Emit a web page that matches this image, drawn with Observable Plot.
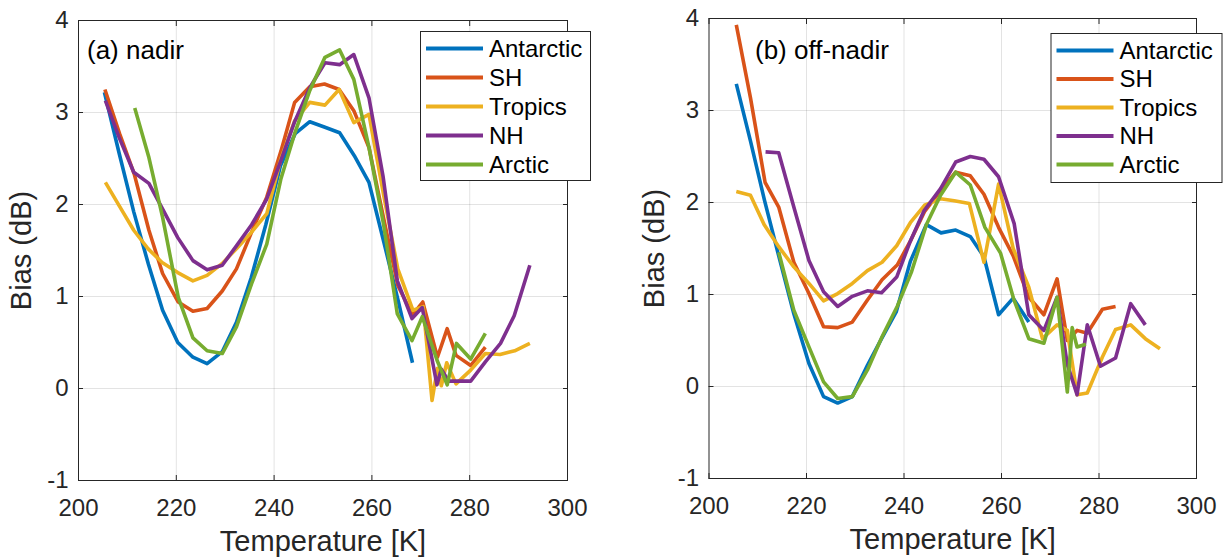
<!DOCTYPE html>
<html>
<head>
<meta charset="utf-8">
<script src="https://cdn.jsdelivr.net/npm/d3@7"></script>
<script src="https://cdn.jsdelivr.net/npm/@observablehq/plot@0.6"></script>
<style>
  html, body { margin: 0; padding: 0; background: #fff; }
  #wrap { position: relative; width: 1229px; height: 560px; display: flex; font-family: "Liberation Sans", Arial, Helvetica, sans-serif; }
  #overlay { position: absolute; left: 0; top: 0; pointer-events: none; }
</style>
</head>
<body>
<div id="wrap"></div>
<script>
// ---------- data ----------
const regions = ["Antarctic", "SH", "Tropics", "NH", "Arctic"];
const xTicks = [200, 220, 240, 260, 280, 300];
const yTicks = [-1, 0, 1, 2, 3, 4];
const xLabel = "Temperature [K]";
const yLabel = "Bias (dB)";
const panelTitles = ["(a) nadir", "(b) off-nadir"];

// (a) nadir
const nadirAntarcticT = [205.3, 208.3, 211.3, 214.3, 217.2, 220.3, 223.4, 226.3, 229.4, 232.3, 235.3, 238.3, 241.3, 244.3, 247.3, 250.4, 253.4, 256.4, 259.4, 262.4, 265.4, 268.3];
const nadirAntarcticBias = [3.22, 2.56, 1.92, 1.35, 0.85, 0.50, 0.34, 0.27, 0.40, 0.72, 1.20, 1.78, 2.42, 2.77, 2.90, 2.84, 2.78, 2.53, 2.24, 1.60, 0.95, 0.28];
const nadirSHT = [205.4, 208.4, 211.4, 214.4, 217.2, 220.4, 223.4, 226.3, 229.4, 232.3, 235.4, 238.5, 241.4, 244.2, 247.3, 250.3, 253.3, 256.3, 259.4, 262.4, 265.3, 268.3, 270.4, 273.4, 275.4, 277.2, 280.2, 283.2];
const nadirSHBias = [3.25, 2.77, 2.33, 1.72, 1.25, 0.94, 0.84, 0.87, 1.06, 1.30, 1.70, 2.08, 2.58, 3.11, 3.28, 3.31, 3.25, 3.02, 2.62, 1.85, 1.12, 0.80, 0.94, 0.34, 0.65, 0.36, 0.25, 0.45];
const nadirTropicsT = [205.5, 208.4, 211.3, 214.2, 217.1, 220.3, 223.4, 226.3, 229.4, 232.3, 235.4, 238.5, 241.4, 244.2, 247.3, 250.4, 253.3, 256.3, 259.4, 262.4, 265.3, 268.4, 270.5, 272.3, 273.4, 274.2, 275.3, 277.2, 280.2, 283.2, 286.2, 289.2, 292.3];
const nadirTropicsBias = [2.24, 1.98, 1.72, 1.52, 1.37, 1.26, 1.17, 1.23, 1.36, 1.52, 1.70, 1.90, 2.50, 2.91, 3.11, 3.08, 3.25, 2.89, 2.98, 2.10, 1.30, 0.85, 0.89, -0.13, 0.22, 0.03, 0.28, 0.05, 0.20, 0.38, 0.37, 0.41, 0.49];
const nadirNHT = [205.5, 208.3, 211.3, 214.4, 217.4, 220.3, 223.4, 226.3, 229.4, 232.3, 235.4, 238.5, 241.4, 244.2, 247.3, 250.4, 253.4, 256.3, 259.4, 262.3, 265.2, 268.2, 270.3, 273.3, 274.2, 275.7, 277.4, 280.2, 283.2, 286.3, 289.1, 292.3];
const nadirNHBias = [3.13, 2.73, 2.35, 2.23, 1.93, 1.64, 1.39, 1.29, 1.34, 1.55, 1.78, 2.06, 2.48, 2.90, 3.27, 3.54, 3.52, 3.63, 3.16, 2.30, 1.17, 0.76, 0.88, 0.04, 0.21, 0.08, 0.08, 0.08, 0.29, 0.49, 0.79, 1.34];
const nadirArcticT = [211.5, 214.4, 217.2, 220.4, 223.4, 226.3, 229.4, 232.3, 235.4, 238.5, 241.4, 244.2, 247.3, 250.4, 253.4, 256.3, 259.4, 262.4, 265.2, 268.2, 270.3, 273.3, 275.4, 277.3, 280.2, 283.2];
const nadirArcticBias = [3.05, 2.51, 1.86, 0.99, 0.55, 0.41, 0.38, 0.67, 1.14, 1.57, 2.28, 2.77, 3.24, 3.60, 3.68, 3.36, 2.62, 1.78, 0.81, 0.52, 0.78, 0.31, 0.04, 0.49, 0.32, 0.60];

// (b) off-nadir
const offAntarcticT = [205.6, 208.5, 211.4, 214.3, 217.4, 220.5, 223.5, 226.4, 229.4, 232.5, 235.4, 238.4, 241.3, 244.6, 247.6, 250.6, 253.6, 256.4, 259.4, 262.4, 265.6];
const offAntarcticBias = [3.29, 2.67, 2.02, 1.42, 0.79, 0.25, -0.11, -0.18, -0.11, 0.23, 0.52, 0.81, 1.36, 1.76, 1.67, 1.70, 1.63, 1.41, 0.78, 0.96, 0.70];
const offSHT = [205.6, 208.5, 211.5, 214.3, 217.4, 220.5, 223.5, 226.4, 229.4, 232.5, 235.5, 238.6, 241.3, 244.2, 247.5, 250.6, 253.6, 256.4, 259.4, 262.4, 265.6, 268.7, 271.4, 273.5, 275.5, 277.6, 280.7, 283.4];
const offSHBias = [3.93, 3.14, 2.22, 1.95, 1.35, 1.01, 0.65, 0.64, 0.70, 0.94, 1.16, 1.32, 1.58, 1.90, 2.13, 2.33, 2.29, 2.09, 1.73, 1.42, 0.97, 0.78, 1.17, 0.50, 0.61, 0.58, 0.84, 0.87];
const offTropicsT = [205.6, 208.5, 211.3, 214.3, 217.4, 220.5, 223.5, 226.4, 229.4, 232.5, 235.5, 238.5, 241.3, 244.2, 247.5, 250.3, 253.4, 256.4, 259.4, 262.4, 265.6, 268.4, 271.4, 273.5, 275.5, 277.6, 280.7, 283.4, 286.5, 289.5, 292.5];
const offTropicsBias = [2.12, 2.08, 1.76, 1.52, 1.30, 1.12, 0.93, 1.01, 1.12, 1.26, 1.35, 1.53, 1.78, 1.97, 2.04, 2.02, 1.99, 1.35, 2.20, 1.50, 1.08, 0.52, 0.67, 0.61, -0.09, -0.07, 0.32, 0.62, 0.67, 0.52, 0.41];
const offNHT = [211.6, 214.3, 217.4, 220.5, 223.5, 226.4, 229.4, 232.5, 235.4, 238.5, 241.3, 244.1, 247.5, 250.6, 253.6, 256.4, 259.4, 262.6, 265.6, 268.7, 271.4, 273.5, 275.5, 277.6, 280.3, 283.4, 286.5, 289.5];
const offNHBias = [2.55, 2.54, 1.95, 1.37, 1.03, 0.87, 0.98, 1.04, 1.02, 1.19, 1.58, 1.91, 2.15, 2.44, 2.50, 2.47, 2.28, 1.77, 0.78, 0.61, 0.97, 0.24, -0.09, 0.67, 0.22, 0.31, 0.90, 0.67];
const offArcticT = [214.3, 217.4, 220.5, 223.5, 226.4, 229.4, 232.5, 235.5, 238.6, 241.5, 244.6, 247.5, 250.6, 253.6, 256.6, 259.8, 262.5, 265.6, 268.7, 271.4, 273.5, 274.5, 275.5, 277.3];
const offArcticBias = [1.46, 0.83, 0.43, 0.05, -0.13, -0.11, 0.18, 0.54, 0.87, 1.24, 1.76, 2.08, 2.33, 2.19, 1.73, 1.45, 0.95, 0.52, 0.47, 0.97, -0.06, 0.64, 0.43, 0.46];

// ---------- styles ----------
const colors = ["#0072BD", "#D95319", "#EDB120", "#7E2F8E", "#77AC30"];
const FONT = '"Liberation Sans", Arial, Helvetica, sans-serif';
const INK = "#262626";

function rows(pairs) {
  const out = [];
  pairs.forEach(([name, T, B]) => T.forEach((t, i) => out.push({region: name, t, b: B[i]})));
  return out;
}
const nadirData = rows([
  ["Antarctic", nadirAntarcticT, nadirAntarcticBias],
  ["SH", nadirSHT, nadirSHBias],
  ["Tropics", nadirTropicsT, nadirTropicsBias],
  ["NH", nadirNHT, nadirNHBias],
  ["Arctic", nadirArcticT, nadirArcticBias]
]);
const offData = rows([
  ["Antarctic", offAntarcticT, offAntarcticBias],
  ["SH", offSHT, offSHBias],
  ["Tropics", offTropicsT, offTropicsBias],
  ["NH", offNHT, offNHBias],
  ["Arctic", offArcticT, offArcticBias]
]);

function panel(data, m) {
  return Plot.plot({
    width: m.width, height: 560,
    marginLeft: m.left, marginRight: m.right, marginTop: m.top, marginBottom: m.bottom,
    x: {domain: [200, 300]},
    y: {domain: [-1, 4]},
    color: {domain: regions, range: colors},
    style: {fontFamily: FONT, background: "transparent", overflow: "visible", color: INK},
    marks: [
      Plot.gridX(xTicks.slice(1, -1), {stroke: INK, strokeOpacity: 0.13, strokeWidth: 1}),
      Plot.gridY(yTicks.slice(1, -1), {stroke: INK, strokeOpacity: 0.13, strokeWidth: 1}),
      Plot.line(data, {x: "t", y: "b", z: "region", stroke: "region", strokeWidth: 3.6, strokeLinejoin: "round", strokeLinecap: "butt"}),
      Plot.frame({stroke: INK, strokeWidth: 1}),
      Plot.axisX(xTicks, {anchor: "bottom", tickSize: -5, tickPadding: 23, fontSize: 24, color: INK, label: null, tickFormat: d => String(d)}),
      Plot.axisX(xTicks, {anchor: "top", tickSize: -5, color: INK, label: null, tickFormat: () => ""}),
      Plot.axisY(yTicks, {anchor: "left", tickSize: -5, tickPadding: 15, fontSize: 24, color: INK, label: null, tickFormat: d => String(d)}),
      Plot.axisY(yTicks, {anchor: "right", tickSize: -5, color: INK, label: null, tickFormat: () => ""}),
      Plot.text([xLabel], {text: d => d, frameAnchor: "bottom", dy: 61, lineAnchor: "middle", fontSize: 29, fill: INK}),
      Plot.text([yLabel], {text: d => d, frameAnchor: "left", dx: m.ylabDx, rotate: -90, lineAnchor: "middle", textAnchor: "middle", fontSize: 29, fill: INK})
    ]
  });
}

const wrap = document.getElementById("wrap");
wrap.appendChild(panel(nadirData, {width: 614, left: 78, right: 47, top: 20, bottom: 80, ylabDx: -57}));
wrap.appendChild(panel(offData, {width: 615, left: 94.5, right: 33, top: 18, bottom: 82, ylabDx: -54}));

// overlay: panel titles + legends
const svg = d3.select(wrap).append("svg")
  .attr("id", "overlay").attr("width", 1229).attr("height", 560)
  .style("font-family", FONT);

const titlePos = [[87, 59], [755, 59]];
panelTitles.forEach((t, i) => {
  svg.append("text").attr("x", titlePos[i][0]).attr("y", titlePos[i][1])
    .attr("font-size", 26).attr("fill", "#000").text(t);
});

function legend(x, y, w, h, step) {
  const g = svg.append("g").attr("transform", `translate(${x},${y})`);
  g.append("rect").attr("x", 0.5).attr("y", 0.5).attr("width", w).attr("height", h)
    .attr("fill", "#fff").attr("stroke", INK).attr("stroke-width", 1);
  regions.forEach((r, i) => {
    const cy = 17.5 + i * step;
    g.append("line").attr("x1", 6).attr("x2", 63).attr("y1", cy).attr("y2", cy)
      .attr("stroke", colors[i]).attr("stroke-width", 4);
    g.append("text").attr("x", 69).attr("y", cy).attr("dy", "0.35em")
      .attr("font-size", 24).attr("fill", "#000").text(r);
  });
}
legend(420, 31, 170, 149, 29);
legend(1050.5, 33, 171, 149, 28.5);
</script>
</body>
</html>
